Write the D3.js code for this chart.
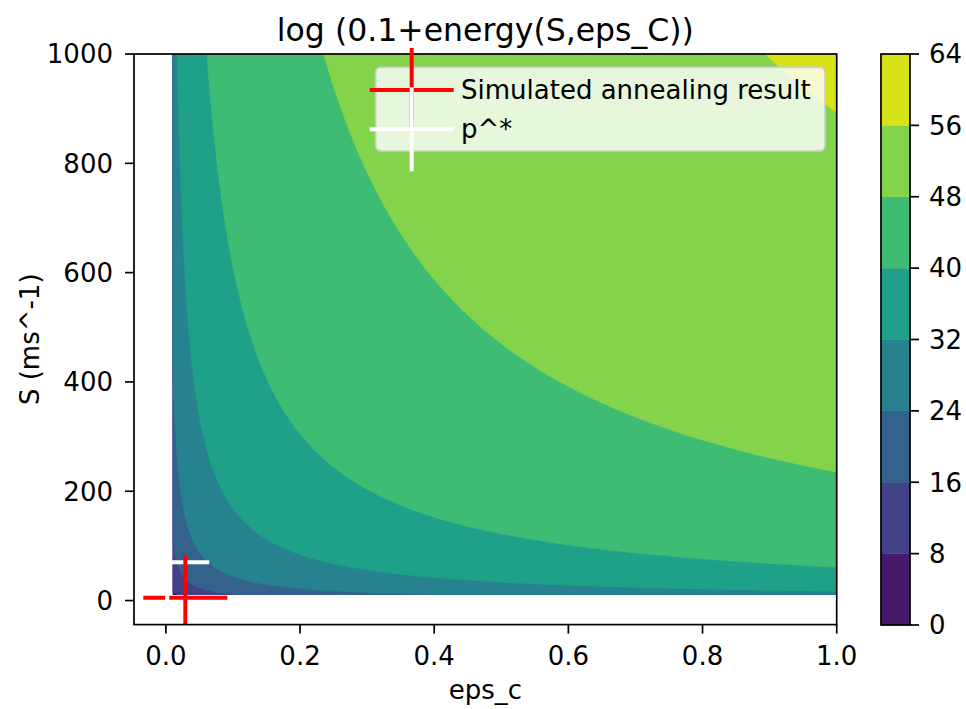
<!DOCTYPE html>
<html><head><meta charset="utf-8">
<script src="https://cdn.jsdelivr.net/npm/d3@7"></script>
<style>
body{margin:0;background:#fff}
svg{display:block}
text{font-family:"DejaVu Sans",sans-serif;fill:#000}
</style>
</head><body>
<svg id="chart" width="966" height="709"></svg>
<script>
// ---------------- data ----------------
const levels = [0, 8, 16, 24, 32, 40, 48, 56, 64];
// level value reached at each contour boundary, and the value of eps_c*S along that boundary
const boundaryLevels   = [8, 16, 24, 32, 40, 48, 56];
const boundaryProducts = [0.18, 1.16, 4.4, 16.8, 61, 235, 893];
const epsExtent = [0.01, 1.0];     // grid range of eps_c
const sExtent   = [10, 1000];      // grid range of S
const xTicks  = [0, 0.2, 0.4, 0.6, 0.8, 1.0];
const yTicks  = [0, 200, 400, 600, 800, 1000];
const cbTicks = [0, 8, 16, 24, 32, 40, 48, 56, 64];
const annealPoint = [0.029, 5.2];   // red "+"
const pStarPoint  = [0.002, 70];    // white "+"
const legendLabels = ["Simulated annealing result", "p^*"];
const titleText = "log (0.1+energy(S,eps_C))";
const xLabel = "eps_c";
const yLabel = "S (ms^-1)";

// ---------------- layout ----------------
const svg = d3.select("#chart");
const L = 134, R = 836.7, T = 54, B = 624.6;
const x = d3.scaleLinear().domain([-0.0475, 1.0]).range([L, R]);
const y = d3.scaleLinear().domain([-44, 1000]).range([B, T]);
const FS = 26;

// ---------------- contour grid ----------------
const n = 320, m = 320;
const valueScale = d3.scaleLog().domain(boundaryProducts).range(boundaryLevels);
const gEps = d3.scaleLinear().domain([0, n - 1]).range(epsExtent);
const gS   = d3.scaleLinear().domain([0, m - 1]).range(sExtent);
const values = new Float64Array(n * m);
for (let j = 0; j < m; j++) {
  const s = gS(j);
  for (let i = 0; i < n; i++) values[j * n + i] = valueScale(gEps(i) * s);
}
const contours = d3.contours().size([n, m]).thresholds(levels.slice(0, -1))(values);
const cx = d3.scaleLinear().domain([0.5, n - 0.5]).range(epsExtent);
const cy = d3.scaleLinear().domain([0.5, m - 0.5]).range(sExtent);
const proj = d3.geoTransform({
  point(px, py) { this.stream.point(x(cx(px)), y(cy(py))); }
});
const path = d3.geoPath(proj);
const bandColor = v => d3.interpolateViridis((v + 4) / 64);

const defs = svg.append("defs");
defs.append("clipPath").attr("id", "dataClip").append("rect")
  .attr("x", x(epsExtent[0])).attr("y", y(sExtent[1]))
  .attr("width", x(epsExtent[1]) - x(epsExtent[0]))
  .attr("height", y(sExtent[0]) - y(sExtent[1]));
defs.append("clipPath").attr("id", "axClip").append("rect")
  .attr("x", L).attr("y", T).attr("width", R - L).attr("height", B - T);

svg.append("g").attr("clip-path", "url(#dataClip)")
  .selectAll("path").data(contours).join("path")
  .attr("d", path)
  .attr("fill", d => bandColor(d.value))
  .attr("stroke", d => bandColor(d.value))
  .attr("stroke-width", 0.6);

// ---------------- markers in plot ----------------
const ARM = 42, MW = 4;
const mk = svg.append("g").attr("clip-path", "url(#axClip)");
function hArm(g, p, c) {
  g.append("line").attr("x1", x(p[0]) - ARM).attr("x2", x(p[0]) + ARM)
    .attr("y1", y(p[1])).attr("y2", y(p[1])).attr("stroke", c).attr("stroke-width", MW);
}
function vArm(g, p, c) {
  g.append("line").attr("x1", x(p[0])).attr("x2", x(p[0]))
    .attr("y1", y(p[1]) - ARM).attr("y2", y(p[1]) + ARM).attr("stroke", c).attr("stroke-width", MW);
}
hArm(mk, annealPoint, "red");
vArm(mk, pStarPoint, "white");
hArm(mk, pStarPoint, "white");
vArm(mk, annealPoint, "red");

// ---------------- axes ----------------
svg.append("rect").attr("x", L).attr("y", T).attr("width", R - L).attr("height", B - T)
  .attr("fill", "none").attr("stroke", "#000").attr("stroke-width", 1.7);

const xg = svg.append("g");
xTicks.forEach(t => {
  xg.append("line").attr("x1", x(t)).attr("x2", x(t)).attr("y1", B).attr("y2", B + 9)
    .attr("stroke", "#000").attr("stroke-width", 1.7);
  xg.append("text").attr("x", x(t)).attr("y", B + 40).attr("text-anchor", "middle")
    .attr("font-size", FS).text(d3.format(".1f")(t));
});
const yg = svg.append("g");
yTicks.forEach(t => {
  yg.append("line").attr("x1", L - 9).attr("x2", L).attr("y1", y(t)).attr("y2", y(t))
    .attr("stroke", "#000").attr("stroke-width", 1.7);
  yg.append("text").attr("x", L - 21).attr("y", y(t)).attr("dy", "0.36em").attr("text-anchor", "end")
    .attr("font-size", FS).text(t);
});

svg.append("text").attr("x", (L + R) / 2).attr("y", 699).attr("text-anchor", "middle")
  .attr("font-size", FS).text(xLabel);
svg.append("text").attr("transform", `translate(39,${(T + B) / 2}) rotate(-90)`)
  .attr("text-anchor", "middle").attr("font-size", FS).text(yLabel);
svg.append("text").attr("x", (L + R) / 2).attr("y", 41).attr("text-anchor", "middle")
  .attr("font-size", 31.5).text(titleText);

// ---------------- legend ----------------
const lg = svg.append("g");
lg.append("rect").attr("x", 375.7).attr("y", 67.3).attr("width", 449.3).attr("height", 83.7)
  .attr("rx", 5).attr("fill", "white").attr("fill-opacity", 0.8)
  .attr("stroke", "#cccccc").attr("stroke-opacity", 0.8).attr("stroke-width", 2);
const legRows = [
  {label: legendLabels[0], color: "red", cy: 90, base: 98.5},
  {label: legendLabels[1], color: "white", cy: 129.3, base: 138}
];
const lmx = 411.7;
legRows.forEach(r => {
  lg.append("line").attr("x1", lmx - ARM).attr("x2", lmx + ARM).attr("y1", r.cy).attr("y2", r.cy)
    .attr("stroke", r.color).attr("stroke-width", MW);
  lg.append("line").attr("x1", lmx).attr("x2", lmx).attr("y1", r.cy - ARM).attr("y2", r.cy + ARM)
    .attr("stroke", r.color).attr("stroke-width", MW);
  lg.append("text").attr("x", 461).attr("y", r.base).attr("font-size", FS).text(r.label);
});

// ---------------- colorbar ----------------
const cbL = 881, cbR = 910, cbT = 54, cbB = 625;
const cbY = d3.scaleLinear().domain([0, 64]).range([cbB, cbT]);
const cb = svg.append("g");
d3.pairs(levels).forEach(([a, b]) => {
  cb.append("rect").attr("x", cbL).attr("width", cbR - cbL)
    .attr("y", cbY(b)).attr("height", cbY(a) - cbY(b))
    .attr("fill", bandColor(a)).attr("stroke", bandColor(a)).attr("stroke-width", 0.5);
});
cb.append("rect").attr("x", cbL).attr("y", cbT).attr("width", cbR - cbL).attr("height", cbB - cbT)
  .attr("fill", "none").attr("stroke", "#000").attr("stroke-width", 1.7);
cbTicks.forEach(t => {
  cb.append("line").attr("x1", cbR).attr("x2", cbR + 9).attr("y1", cbY(t)).attr("y2", cbY(t))
    .attr("stroke", "#000").attr("stroke-width", 1.7);
  cb.append("text").attr("x", cbR + 19).attr("y", cbY(t)).attr("dy", "0.36em")
    .attr("font-size", FS).text(t);
});
</script>
</body></html>
